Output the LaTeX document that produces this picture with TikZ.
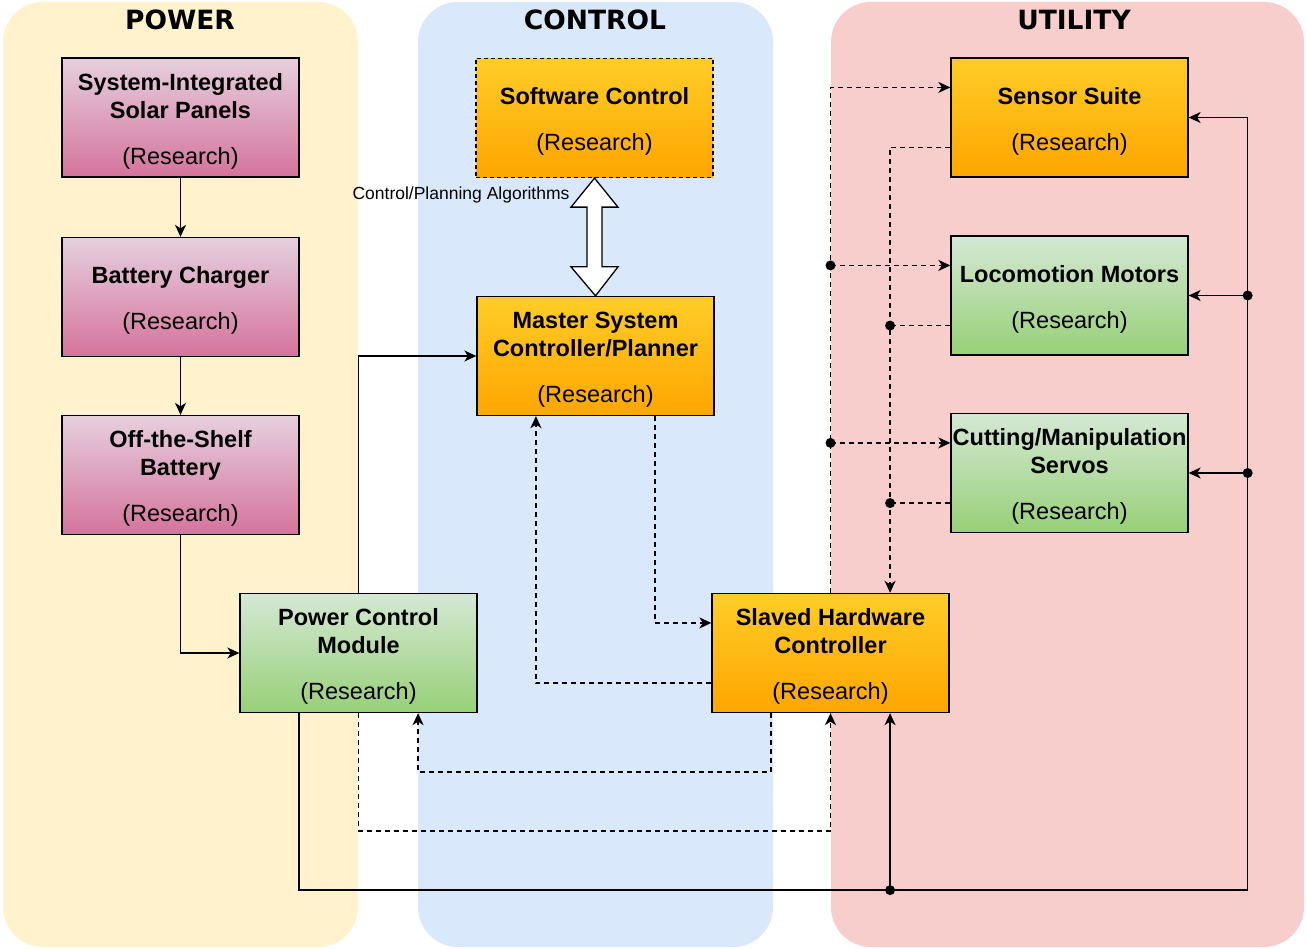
\documentclass[tikz,border=0pt]{standalone}
\usepackage{fontspec}
\setmainfont{Liberation Sans}
\newfontfamily\titlefont{DejaVu Sans}
\usetikzlibrary{arrows.meta,calc}
\definecolor{powerbg}{HTML}{FFF2CC}
\definecolor{controlbg}{HTML}{DAE8FC}
\definecolor{utilbg}{HTML}{F8CECC}
\definecolor{pinktop}{HTML}{E6D0DE}
\definecolor{pinkbot}{HTML}{D5739D}
\definecolor{greentop}{HTML}{D5E8D4}
\definecolor{greenbot}{HTML}{97D077}
\definecolor{orangetop}{HTML}{FFCD28}
\definecolor{orangebot}{HTML}{FFA500}
\newcommand{\tstrut}{\rule{0pt}{24pt}}
\begin{document}
\begin{tikzpicture}[x=1pt,y=-1pt,
  lane/.style={rounded corners=40pt},
  lanetitle/.style={font=\titlefont\bfseries\fontsize{26.5}{31}\selectfont, inner sep=0pt},
  box/.style={draw=black, line width=1.3pt, minimum width=237pt, minimum height=119pt, inner sep=0pt, align=center, font=\fontsize{23.5}{28}\selectfont},
  pinkbox/.style={box, top color=pinktop, bottom color=pinkbot},
  greenbox/.style={box, top color=greentop, bottom color=greenbot},
  orangebox/.style={box, top color=orangetop, bottom color=orangebot},
  conn/.style={line width=1.5pt, -{Stealth[length=12pt,width=11pt,inset=3.5pt]}},
  dconn/.style={conn, dash pattern=on 5pt off 4pt},
  dline/.style={line width=1.5pt, dash pattern=on 5pt off 4pt},
  dot/.style={circle, fill=black, inner sep=0pt, minimum size=10pt},
  lbl/.style={font=\fontsize{17.5}{21}\selectfont, inner sep=0pt}
]
\useasboundingbox (0,0) rectangle (1306,949);
\fill[white] (0,0) rectangle (1306,949);
% lanes
\fill[lane, powerbg] (3,2) rectangle (358,947);
\fill[lane, controlbg] (418,2) rectangle (773,947);
\fill[lane, utilbg] (831,2) rectangle (1304,947);
\node[lanetitle] (tpower) at (180,20) {POWER};
\node[lanetitle] (tcontrol) at (595,20) {CONTROL};
\node[lanetitle] (tutil) at (1074,20) {UTILITY};
% boxes
\node[pinkbox] (solar) at (180.5,117.5) {\tstrut\textbf{System-Integrated}\\\textbf{Solar Panels}\\[18pt](Research)};
\node[pinkbox] (charger) at (180.5,297) {\tstrut\textbf{Battery Charger}\\[18pt](Research)};
\node[pinkbox] (ots) at (180.5,475) {\tstrut\textbf{Off-the-Shelf}\\\textbf{Battery}\\[18pt](Research)};
\node[greenbox] (pcm) at (358.5,653) {\tstrut\textbf{Power Control}\\\textbf{Module}\\[18pt](Research)};
\node[orangebox, dash pattern=on 4pt off 3pt] (sw) at (594.5,118) {\tstrut\textbf{Software Control}\\[18pt](Research)};
\node[orangebox] (master) at (595.5,356) {\tstrut\textbf{Master System}\\\textbf{Controller/Planner}\\[18pt](Research)};
\node[orangebox] (slaved) at (830.5,653) {\tstrut\textbf{Slaved Hardware}\\\textbf{Controller}\\[18pt](Research)};
\node[orangebox] (sensor) at (1069.5,117.5) {\tstrut\textbf{Sensor Suite}\\[18pt](Research)};
\node[greenbox] (loco) at (1069.5,295.5) {\tstrut\textbf{Locomotion Motors}\\[18pt](Research)};
\node[greenbox] (cut) at (1069.5,473) {\tstrut\textbf{Cutting/Manipulation}\\\textbf{Servos}\\[18pt](Research)};
% power chain
\draw[conn] (solar) -- (charger);
\draw[conn] (charger) -- (ots);
\draw[conn] (ots.south) |- (pcm.west);
\draw[conn] (pcm.north) |- (master.west);
% block double arrow
\draw[line width=1.3pt, fill=white]
  (sw.south) -- ($(sw.south)+(23.5,29)$) -- ($(sw.south)+(7.5,29)$)
  -- ($(master.north)+(6.5,-29)$) -- ($(master.north)+(22.5,-29)$) -- (master.north)
  -- ($(master.north)+(-24.5,-29)$) -- ($(master.north)+(-8.5,-29)$)
  -- ($(sw.south)+(-7.5,29)$) -- ($(sw.south)+(-23.5,29)$) -- cycle;
\node[lbl] (cpa) at (461,195) {Control/Planning Algorithms};
% control dashed links
\draw[dconn] ($(master.south west)!0.75!(master.south east)$) |- ($(slaved.north west)!0.25!(slaved.south west)$);
\draw[dconn] ($(slaved.north west)!0.75!(slaved.south west)$) -| ($(master.south west)!0.25!(master.south east)$);
\draw[dconn] ($(slaved.south west)!0.25!(slaved.south east)$) -- ++(0,59) -| ($(pcm.south west)!0.75!(pcm.south east)$);
\draw[dconn] (pcm.south) -- ++(0,118) -| (slaved.south);
% solid power bus
\coordinate (rbus) at ($(sensor.east)+(59,0)$);
\draw[conn] ($(pcm.south west)!0.25!(pcm.south east)$) -- ++(0,177) coordinate (botL) -| (rbus) -- (sensor.east);
\coordinate (slv75) at ($(slaved.south west)!0.75!(slaved.south east)$);
\coordinate (j1) at (slv75 |- botL);
\draw[conn] (j1) -- (slv75);
\node[dot] (d1) at (j1) {};
\coordinate (j2) at (rbus |- loco.east);
\coordinate (j3) at (rbus |- cut.east);
\draw[conn] (j2) -- (loco.east);
\draw[conn] (j3) -- (cut.east);
\node[dot] (d2) at (j2) {};
\node[dot] (d3) at (j3) {};
% dashed utility bus from slaved
\coordinate (sA) at ($(sensor.north west)!0.25!(sensor.south west)$);
\coordinate (lA) at ($(loco.north west)!0.25!(loco.south west)$);
\coordinate (cA) at ($(cut.north west)!0.25!(cut.south west)$);
\draw[dconn] (slaved.north) |- (sA);
\draw[dconn] (slaved.north |- lA) -- (lA);
\draw[dconn] (slaved.north |- cA) -- (cA);
\node[dot] (d4) at (slaved.north |- lA) {};
\node[dot] (d5) at (slaved.north |- cA) {};
% dashed feedback bus to slaved
\coordinate (sB) at ($(sensor.north west)!0.75!(sensor.south west)$);
\coordinate (lB) at ($(loco.north west)!0.75!(loco.south west)$);
\coordinate (cB) at ($(cut.north west)!0.75!(cut.south west)$);
\coordinate (slt75) at ($(slaved.north west)!0.75!(slaved.north east)$);
\draw[dconn] (sB) -| (slt75);
\draw[dline] (lB) -- (slt75 |- lB);
\draw[dline] (cB) -- (slt75 |- cB);
\node[dot] (d6) at (slt75 |- lB) {};
\node[dot] (d7) at (slt75 |- cB) {};
\end{tikzpicture}
\end{document}
